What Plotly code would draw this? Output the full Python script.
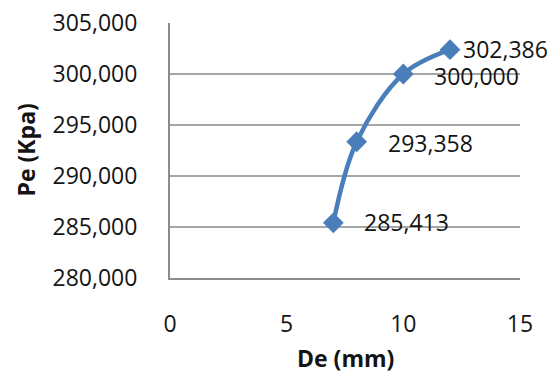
import plotly.graph_objects as go

# Data: diameter De (mm) vs pressure Pe (kPa)
de_mm = [7, 8, 10, 12]
pe_kpa = [285.413, 293.358, 300.000, 302.386]
y_ticks = [280, 285, 290, 295, 300, 305]
x_ticks = [0, 5, 10, 15]


def comma_dec(v):
    return f"{v:.3f}".replace(".", ",")


LINE_BLUE = "#4A7EBB"
TEXT = "#141414"
FONT = "Open Sans"

fig = go.Figure()
fig.add_trace(go.Scatter(
    x=de_mm, y=pe_kpa,
    mode="lines+markers",
    line=dict(color=LINE_BLUE, width=4.5, shape="spline", smoothing=1.0),
    marker=dict(symbol="diamond", size=16, color=LINE_BLUE),
    hoverinfo="skip",
    showlegend=False,
))

# value labels to the right of each point
label_xshift = [29, 29, 29, 11]
label_yshift = [1, -1, -2, 1]
for x, y, dx, dy in zip(de_mm, pe_kpa, label_xshift, label_yshift):
    fig.add_annotation(
        x=x, y=y, text=comma_dec(y), showarrow=False,
        xanchor="left", yanchor="middle", xshift=dx, yshift=dy,
        font=dict(family=FONT, size=23, color=TEXT),
    )

# axis titles
fig.add_annotation(
    x=0.5, y=0, xref="paper", yref="paper", text="<b>De (mm)</b>",
    showarrow=False, xanchor="center", yanchor="middle", yshift=-80,
    font=dict(family=FONT, size=23, color=TEXT),
)
fig.add_annotation(
    x=0, y=0.5, xref="paper", yref="paper", text="<b>Pe (Kpa)</b>",
    showarrow=False, xanchor="center", yanchor="middle", xshift=-145,
    textangle=-90, font=dict(family=FONT, size=23, color=TEXT),
)

fig.update_layout(
    width=557, height=374,
    margin=dict(l=170, r=37, t=23, b=96),
    paper_bgcolor="white", plot_bgcolor="white",
    font=dict(family=FONT, size=23, color=TEXT),
)
fig.update_xaxes(
    range=[0, 15], tickvals=x_ticks, ticktext=[str(t) for t in x_ticks],
    showgrid=False, zeroline=False, automargin=False,
    showline=True, linecolor="#8c8c8c", linewidth=2,
    ticks="", ticklabelstandoff=24,
)
fig.update_yaxes(
    range=[280, 305], tickvals=y_ticks, ticktext=[comma_dec(t) for t in y_ticks],
    showgrid=True, gridcolor="#a6a6a6", gridwidth=2, zeroline=False, automargin=False,
    showline=True, linecolor="#8c8c8c", linewidth=2,
    ticks="", ticklabelstandoff=26,
)

fig.write_html("out.html")
